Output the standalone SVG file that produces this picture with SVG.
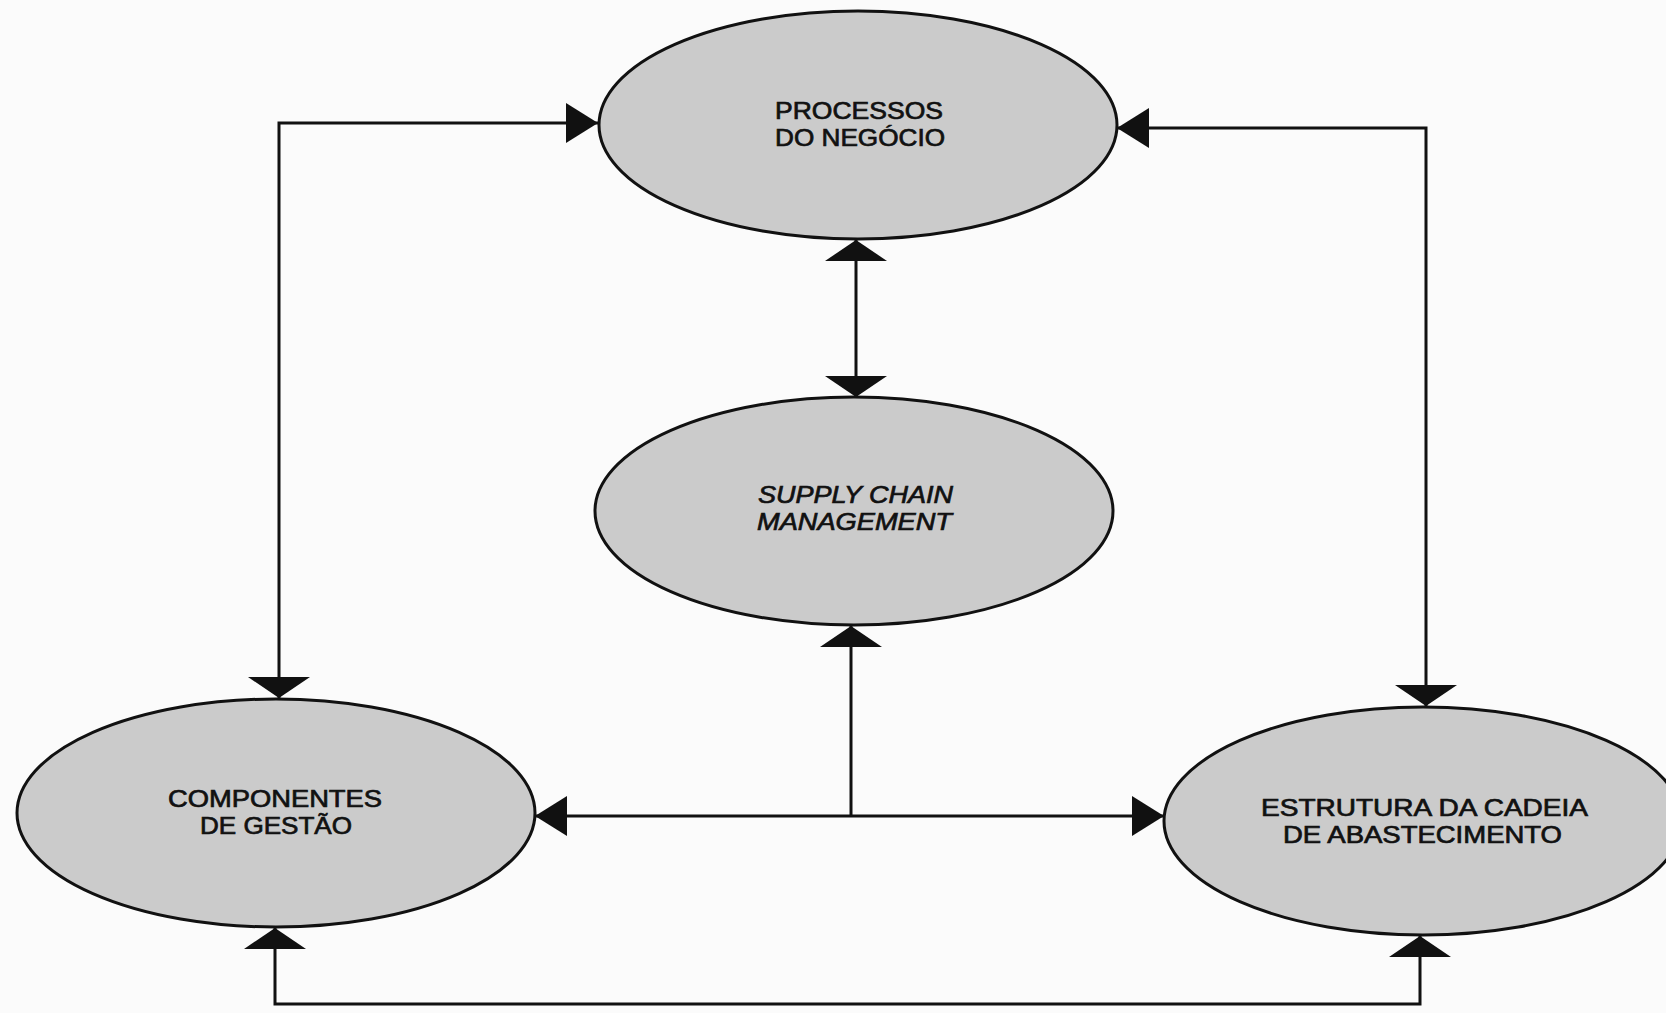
<svg xmlns="http://www.w3.org/2000/svg" width="1666" height="1013" viewBox="0 0 1666 1013">
  <style>
    .node ellipse { fill: #cbcbcb; stroke: #111; stroke-width: 3; }
    .lbl { font-family: "Liberation Sans", Arial, sans-serif; font-size: 24px; fill: #111; stroke: #111; stroke-width: 0.7px; }
    .it { font-style: italic; }
    .conn { fill: none; stroke: #111; stroke-width: 3; stroke-linejoin: miter; }
  </style>
  <defs>
    <marker id="ah" viewBox="0 0 32 40" markerWidth="32" markerHeight="40" refX="32" refY="20" orient="auto-start-reverse" markerUnits="userSpaceOnUse">
      <path d="M0,0 L32,20 L0,40 Z" fill="#111"/>
    </marker>
    <marker id="av" viewBox="0 0 21 62" markerWidth="21" markerHeight="62" refX="21" refY="31" orient="auto-start-reverse" markerUnits="userSpaceOnUse">
      <path d="M0,0 L21,31 L0,62 Z" fill="#111"/>
    </marker>
  </defs>
  <rect width="1666" height="1013" fill="#fbfbfb"/>

  <g id="connectors">
    <path class="conn" d="M598,123 H279 V698" marker-start="url(#ah)" marker-end="url(#av)"/>
    <path class="conn" d="M1117,128 H1426 V706" marker-start="url(#ah)" marker-end="url(#av)"/>
    <path class="conn" d="M856,240 V397" marker-start="url(#av)" marker-end="url(#av)"/>
    <path class="conn" d="M851,626 V816"  marker-start="url(#av)"/>
    <path class="conn" d="M535,816 H1164" marker-start="url(#ah)" marker-end="url(#ah)"/>
    <path class="conn" d="M275,928 V1004 H1420 V936" marker-start="url(#av)" marker-end="url(#av)"/>
  </g>

  <g id="processos" class="node">
    <ellipse cx="858" cy="125" rx="259" ry="114"/>
    <text class="lbl" x="775" y="119" textLength="168" lengthAdjust="spacingAndGlyphs">PROCESSOS</text>
    <text class="lbl" x="775" y="146" textLength="170" lengthAdjust="spacingAndGlyphs">DO NEGÓCIO</text>
  </g>

  <g id="scm" class="node">
    <ellipse cx="854" cy="511" rx="259" ry="114"/>
    <text class="lbl it" x="758" y="503" textLength="195" lengthAdjust="spacingAndGlyphs">SUPPLY CHAIN</text>
    <text class="lbl it" x="757" y="530" textLength="195" lengthAdjust="spacingAndGlyphs">MANAGEMENT</text>
  </g>

  <g id="componentes" class="node">
    <ellipse cx="276" cy="813" rx="259" ry="114"/>
    <text class="lbl" x="168" y="807" textLength="214" lengthAdjust="spacingAndGlyphs">COMPONENTES</text>
    <text class="lbl" x="200" y="834" textLength="152" lengthAdjust="spacingAndGlyphs">DE GESTÃO</text>
  </g>

  <g id="estrutura" class="node">
    <ellipse cx="1423" cy="821" rx="259" ry="114"/>
    <text class="lbl" x="1261" y="816" textLength="327" lengthAdjust="spacingAndGlyphs">ESTRUTURA DA CADEIA</text>
    <text class="lbl" x="1283" y="843" textLength="279" lengthAdjust="spacingAndGlyphs">DE ABASTECIMENTO</text>
  </g>
</svg>
